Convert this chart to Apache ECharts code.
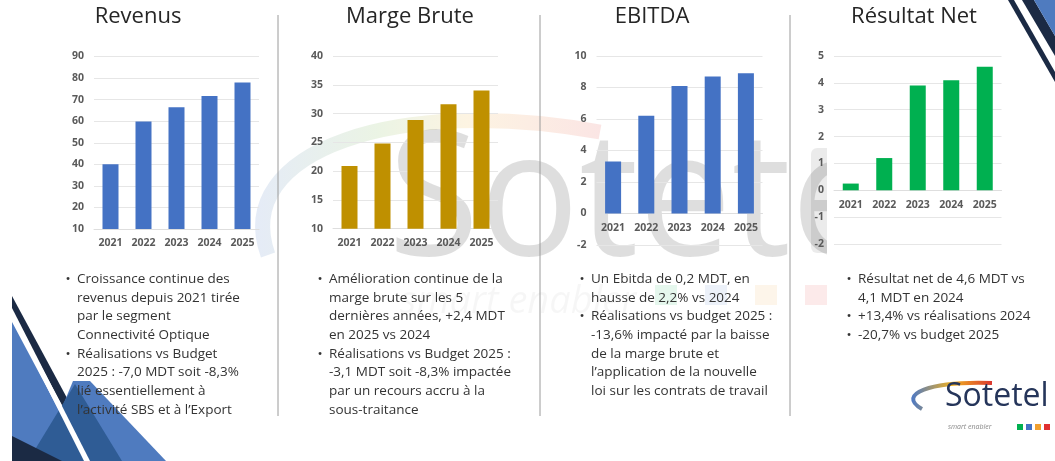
<!DOCTYPE html>
<html>
<head>
<meta charset="utf-8">
<script src="https://cdn.jsdelivr.net/npm/echarts@6/dist/echarts.min.js"></script>
<style>
  html, body { margin: 0; padding: 0; background: #fff; }
  #chart { width: 1055px; height: 461px; }
</style>
</head>
<body>
<div id="chart"></div>
<script>
// données
const years = ['2021', '2022', '2023', '2024', '2025']
const revenus = [40.0, 59.8, 66.5, 71.7, 77.9]
const margeBrute = [20.9, 24.8, 28.9, 31.6, 34.0]
const ebitda = [3.3, 6.2, 8.1, 8.7, 8.9]
const resultatNet = [0.25, 1.2, 3.9, 4.1, 4.6]
const titles = ['Revenus', 'Marge Brute', 'EBITDA', 'Résultat Net']
const axisMin = [10, 10, -2, -2]
const axisMax = [90, 40, 10, 5]
const axisStep = [10, 5, 2, 1]

const bulletsRevenus = [
  ['Croissance continue des', 'revenus depuis 2021 tirée', 'par le segment', 'Connectivité Optique'],
  ['Réalisations vs Budget', '2025 : -7,0 MDT soit -8,3%', 'lié essentiellement à', 'l’activité SBS et à l’Export']
]
const bulletsMarge = [
  ['Amélioration continue de la', 'marge brute sur les 5', 'dernières années, +2,4 MDT', 'en 2025 vs 2024'],
  ['Réalisations vs Budget 2025 :', '-3,1 MDT soit -8,3% impactée', 'par un recours accru à la', 'sous-traitance']
]
const bulletsEbitda = [
  ['Un Ebitda de 0,2 MDT, en', 'hausse de 2,2% vs 2024'],
  ['Réalisations vs budget 2025 :', '-13,6% impacté par la baisse', 'de la marge brute et', 'l’application de la nouvelle', 'loi sur les contrats de travail']
]
const bulletsNet = [
  ['Résultat net de 4,6 MDT vs', '4,1 MDT en 2024'],
  ['+13,4% vs réalisations 2024'],
  ['-20,7% vs budget 2025']
]

const series = [revenus, margeBrute, ebitda, resultatNet]
const colors = ['#4472C4', '#BF9000', '#4472C4', '#00B050']
const bullets = [bulletsRevenus, bulletsMarge, bulletsEbitda, bulletsNet]

const chart = echarts.init(document.getElementById('chart'))

// mise en page des 4 petits graphiques
const grids = [
  { left: 94, top: 56.5, width: 165, height: 172.5 },
  { left: 333, top: 56, width: 165, height: 172.7 },
  { left: 596.5, top: 56, width: 166, height: 189 },
  { left: 834, top: 56, width: 167.5, height: 188 }
]
const titleX = [138, 410, 652, 914]
const bulletX = [68, 320, 582, 849]
const textX = [77, 329, 591, 858]
const lineH = 18.7
const font = '"Open Sans", sans-serif'
const labelFont = { color: '#5a5a5a', fontSize: 10.5, fontWeight: 'bold', fontFamily: font }

const graphic = []

// filigrane Sotetel
graphic.push({
  type: 'bezierCurve', z: -3, silent: true,
  shape: { x1: 268, y1: 255, cpx1: 230, cpy1: 150, cpx2: 400, cpy2: 95, x2: 600, y2: 132 },
  style: {
    fill: 'none', lineWidth: 15, opacity: 0.14,
    stroke: new echarts.graphic.LinearGradient(0, 0, 1, 0, [
      { offset: 0, color: '#4472C4' }, { offset: 0.35, color: '#70b040' },
      { offset: 0.6, color: '#f0b030' }, { offset: 1, color: '#e04040' }
    ])
  }
})
graphic.push({
  type: 'text', z: -3, silent: true, x: 388, y: 293, scaleX: 0.95,
  style: { text: 'Sotetel', font: '175px ' + font, fill: '#000', opacity: 0.13, textVerticalAlign: 'bottom' }
})
// bord de l'image du filigrane
graphic.push({ type: 'rect', z: -2, silent: true, shape: { x: 827, y: 90, width: 180, height: 200 }, style: { fill: '#fff' } })
graphic.push({ type: 'rect', z: -2, silent: true, shape: { x: 811, y: 148, width: 16, height: 105, r: [6, 0, 0, 6] }, style: { fill: '#000', opacity: 0.08 } })
graphic.push({
  type: 'text', z: -3, silent: true, x: 400, y: 302,
  style: { text: 'smart enabler', font: 'italic 38px ' + font, fill: '#000', opacity: 0.035, textVerticalAlign: 'middle' }
})
const squareColors = ['#00B050', '#4472C4', '#F0A030', '#E03030']
squareColors.forEach((c, i) => {
  graphic.push({
    type: 'rect', z: -3, silent: true,
    shape: { x: 655 + i * 50, y: 285, width: 22, height: 20 },
    style: { fill: c, opacity: 0.1 }
  })
})

// décor bas gauche
graphic.push({ type: 'polygon', z: 1, silent: true, shape: { points: [[12, 322], [12, 461], [86, 461]] }, style: { fill: '#4f7bbf' } })
graphic.push({ type: 'polygon', z: 1, silent: true, shape: { points: [[12, 296], [12, 312], [92, 461], [101, 461]] }, style: { fill: '#1b2a44' } })
graphic.push({ type: 'polygon', z: 1, silent: true, shape: { points: [[73, 381], [90, 381], [166, 461], [40, 461]] }, style: { fill: '#4f7bbf' } })
graphic.push({ type: 'polygon', z: 1, silent: true, shape: { points: [[75, 384], [28, 461], [122, 461]] }, style: { fill: '#2f5c95' } })
graphic.push({ type: 'polygon', z: 1, silent: true, shape: { points: [[12, 436], [12, 461], [62, 461]] }, style: { fill: '#1b2a44' } })
graphic.push({ type: 'polygon', z: 1, silent: true, shape: { points: [[12, 308], [12, 318], [84, 461], [90, 461]] }, style: { fill: '#ffffff' } })

// décor haut droit
graphic.push({ type: 'polygon', z: 1, silent: true, shape: { points: [[1008, 0], [1014, 0], [1055, 72], [1055, 82]] }, style: { fill: '#1b2a44' } })
graphic.push({ type: 'polygon', z: 1, silent: true, shape: { points: [[1022, 0], [1034, 0], [1055, 36], [1055, 56]] }, style: { fill: '#1b2a44' } })
graphic.push({ type: 'polygon', z: 1, silent: true, shape: { points: [[1034, 0], [1055, 0], [1055, 36]] }, style: { fill: '#4f7bbf' } })

// séparateurs verticaux
;[278, 540, 790].forEach(x => {
  graphic.push({ type: 'line', z: 1, silent: true, shape: { x1: x, y1: 15, x2: x, y2: 416 }, style: { stroke: '#9a9a9a', lineWidth: 1 } })
})

// titres et puces
titles.forEach((t, i) => {
  graphic.push({
    type: 'text', z: 10, x: titleX[i], y: 17,
    style: { text: t, font: '22px ' + font, fill: '#262626', textAlign: 'center', textVerticalAlign: 'middle' }
  })
  let y = 279
  bullets[i].forEach(lines => {
    graphic.push({
      type: 'text', z: 10, x: bulletX[i], y: y,
      style: { text: '•', font: '13.5px ' + font, fill: '#333', textAlign: 'center', textVerticalAlign: 'middle' }
    })
    graphic.push({
      type: 'text', z: 10, x: textX[i], y: y - lineH / 2,
      style: { text: lines.join('\n'), font: '13.5px ' + font, fill: '#333', lineHeight: lineH, textVerticalAlign: 'top' }
    })
    y += lines.length * lineH
  })
})

// logo bas droit
graphic.push({
  type: 'bezierCurve', z: 10, silent: true,
  shape: { x1: 922, y1: 409, cpx1: 896, cpy1: 394, cpx2: 930, cpy2: 381, x2: 992, y2: 383 },
  style: {
    fill: 'none', lineWidth: 4,
    stroke: new echarts.graphic.LinearGradient(0, 0, 1, 0, [
      { offset: 0, color: '#4a78c8' }, { offset: 0.5, color: '#f0b020' }, { offset: 1, color: '#d83030' }
    ])
  }
})
graphic.push({
  type: 'text', z: 10, x: 945, y: 413,
  style: { text: 'Sotetel', font: '32px ' + font, fill: '#25355a', textVerticalAlign: 'bottom' }
})
graphic.push({
  type: 'text', z: 10, x: 948, y: 427,
  style: { text: 'smart enabler', font: 'italic 7px ' + font, fill: '#888', textVerticalAlign: 'middle' }
})
squareColors.forEach((c, i) => {
  graphic.push({
    type: 'rect', z: 10, silent: true,
    shape: { x: 1017 + i * 9, y: 424, width: 6, height: 6 },
    style: { fill: c }
  })
})

const option = {
  backgroundColor: '#fff',
  animation: false,
  grid: grids,
  xAxis: grids.map((g, i) => ({
    type: 'category',
    gridIndex: i,
    data: years,
    position: 'bottom',
    // l'axe des catégories se place au niveau de zéro
    offset: axisMin[i] < 0 ? -g.height * (0 - axisMin[i]) / (axisMax[i] - axisMin[i]) : 0,
    axisTick: { show: false },
    axisLine: { show: true, onZero: false, lineStyle: { color: '#dedede' } },
    axisLabel: Object.assign({ margin: 9 }, labelFont)
  })),
  yAxis: grids.map((g, i) => ({
    type: 'value',
    gridIndex: i,
    min: axisMin[i],
    max: axisMax[i],
    interval: axisStep[i],
    axisLine: { show: false },
    axisTick: { show: false },
    axisLabel: Object.assign({ margin: 10 }, labelFont),
    splitLine: { lineStyle: { color: '#e6e6e6' } }
  })),
  series: series.map((d, i) => ({
    type: 'bar',
    xAxisIndex: i,
    yAxisIndex: i,
    data: d,
    barWidth: 16,
    z: 5,
    itemStyle: { color: colors[i] }
  })),
  graphic: graphic
}
chart.setOption(option)
</script>
</body>
</html>
